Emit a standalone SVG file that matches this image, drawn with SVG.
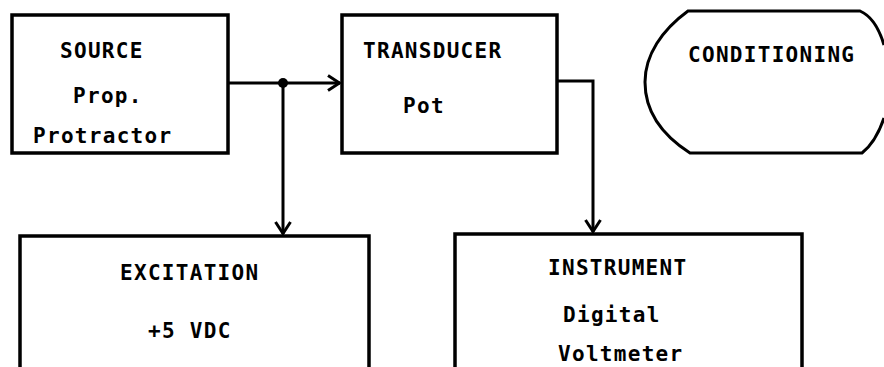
<svg xmlns="http://www.w3.org/2000/svg" width="884" height="367" viewBox="0 0 884 367">
<style>
.box{fill:#fff;stroke:#000;stroke-width:3.5;stroke-linejoin:miter}
.ln{fill:none;stroke:#000;stroke-width:3}
.t{font-family:"DejaVu Sans Mono","Liberation Mono",monospace;font-size:21px;font-weight:bold;letter-spacing:1.3px;fill:#000}
</style>
<defs>
<marker id="arr" viewBox="0 0 14 18" refX="13" refY="9" markerWidth="14" markerHeight="18" markerUnits="userSpaceOnUse" orient="auto">
<path d="M1 1.5 L12.5 9 L1 16.5" fill="none" stroke="#000" stroke-width="3"/>
</marker>
</defs>
<rect width="884" height="367" fill="#fff"/>
<g id="source">
<rect class="box" x="12" y="15" width="216" height="138"/>
<text class="t" x="60" y="58">SOURCE</text>
<text class="t" x="73" y="103">Prop.</text>
<text class="t" x="33" y="143">Protractor</text>
</g>
<g id="transducer">
<rect class="box" x="342" y="15" width="215" height="138"/>
<text class="t" x="363" y="58">TRANSDUCER</text>
<text class="t" x="403" y="113">Pot</text>
</g>
<g id="conditioning">
<path class="ln" stroke-width="3.5" d="M884 45 Q876 18 860 11 L688 11 C662 30 645 55 645 82 C645 112 662 135 690 153 L862 153 Q876 142 884 118"/>
<text class="t" x="688" y="62">CONDITIONING</text>
</g>
<g id="excitation">
<path class="box" d="M20 367 L20 236 L369 236 L369 367"/>
<text class="t" x="120" y="280">EXCITATION</text>
<text class="t" x="148" y="338">+5 VDC</text>
</g>
<g id="instrument">
<path class="box" d="M455 367 L455 234 L802 234 L802 367"/>
<text class="t" x="548" y="275">INSTRUMENT</text>
<text class="t" x="563" y="322">Digital</text>
<text class="t" x="558" y="361">Voltmeter</text>
</g>
<g id="connectors">
<path class="ln" d="M228 83 L340 83" marker-end="url(#arr)"/>
<circle cx="283" cy="83" r="5" fill="#000"/>
<path class="ln" d="M283 83 L283 234" marker-end="url(#arr)"/>
<path class="ln" d="M557 81 L593 81 L593 232" marker-end="url(#arr)"/>
</g>
</svg>
